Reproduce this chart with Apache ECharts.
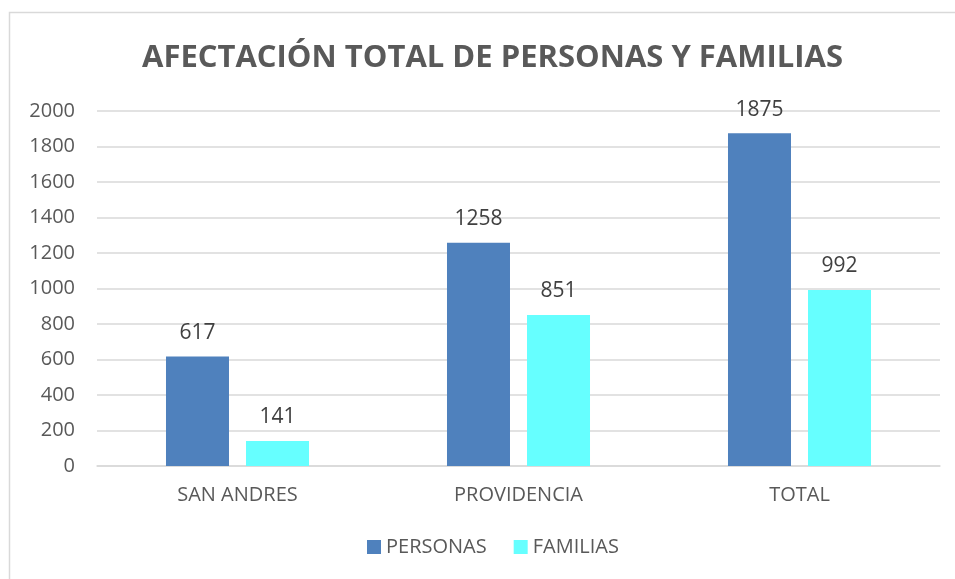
<!DOCTYPE html>
<html>
<head>
<meta charset="utf-8">
<script src="https://cdn.jsdelivr.net/npm/echarts@6/dist/echarts.min.js"></script>
<style>
  html, body { margin: 0; padding: 0; background: #fff; }
  #chart { width: 955px; height: 579px; }
</style>
</head>
<body>
<div id="chart"></div>
<script>
// datos
const categorias = ["SAN ANDRES", "PROVIDENCIA", "TOTAL"];
const personas = [617, 1258, 1875];
const familias = [141, 851, 992];

let chart = echarts.init(document.getElementById("chart"));

const fuente = "'Open Sans', 'Liberation Sans', sans-serif";

let option = {
  backgroundColor: "#fff",
  animation: false,
  textStyle: { fontFamily: fuente },
  title: {
    text: "AFECTACIÓN TOTAL DE PERSONAS Y FAMILIAS",
    left: 137,
    top: 38,
    textStyle: {
      fontFamily: "'Open Sans', sans-serif",
      fontSize: 31,
      fontWeight: "bold",
      color: "#595959",
    },
  },
  // marco del grafico
  graphic: [
    {
      type: "rect",
      shape: { x: 9.5, y: 12.5, width: 960, height: 600 },
      style: { fill: "none", stroke: "#d9d9d9", lineWidth: 1.5 },
      silent: true,
    },
  ],
  legend: {
    bottom: 17,
    left: 362,
    itemWidth: 14,
    itemHeight: 14,
    itemGap: 27,
    icon: "rect",
    textStyle: { fontSize: 20, color: "#595959", fontFamily: fuente },
    data: ["PERSONAS", "FAMILIAS"],
  },
  grid: {
    left: 97,
    right: 15,
    top: 111,
    bottom: 113,
    containLabel: false,
  },
  xAxis: {
    type: "category",
    data: categorias,
    axisLine: { lineStyle: { color: "#d9d9d9", width: 1.5 } },
    axisTick: { show: false },
    axisLabel: { fontSize: 20, color: "#595959", margin: 19, fontFamily: fuente },
  },
  yAxis: {
    type: "value",
    min: 0,
    max: 2000,
    interval: 200,
    axisLine: { show: false },
    axisTick: { show: false },
    splitLine: { lineStyle: { color: "#d9d9d9", width: 1.5 } },
    axisLabel: {
      fontSize: 20,
      color: "#595959",
      margin: 22,
      fontFamily: fuente,
      formatter: (v) => String(v),
    },
  },
  series: [
    {
      name: "PERSONAS",
      type: "bar",
      data: personas,
      barWidth: 63,
      barGap: "27%",
      itemStyle: { color: "#4f81bd" },
      label: {
        show: true,
        position: "top",
        distance: 13,
        fontSize: 21,
        color: "#404040",
        fontFamily: fuente,
      },
    },
    {
      name: "FAMILIAS",
      type: "bar",
      data: familias,
      barWidth: 63,
      itemStyle: { color: "#66ffff" },
      label: {
        show: true,
        position: "top",
        distance: 13,
        fontSize: 21,
        color: "#404040",
        fontFamily: fuente,
      },
    },
  ],
};
chart.setOption(option);
</script>
</body>
</html>
